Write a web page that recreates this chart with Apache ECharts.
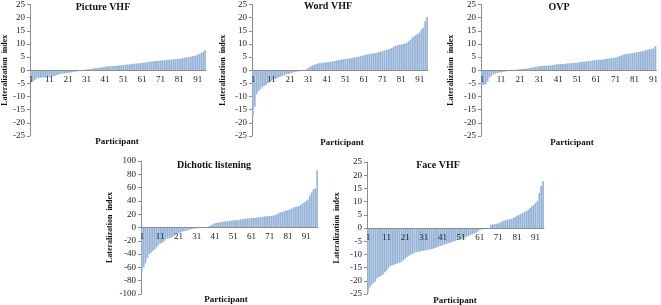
<!DOCTYPE html>
<html>
<head>
<meta charset="utf-8">
<script src="https://cdn.jsdelivr.net/npm/echarts@6/dist/echarts.min.js"></script>
<style>
  html, body { margin: 0; background: #fff; }
  #chart { width: 661px; height: 305px; }
</style>
</head>
<body>
<div id="chart"></div>
<script>
// lateralization index per participant, sorted ascending
const pictureVhf = [
  -4.6, -4.2, -3.8, -3.2, -3.0, -2.9, -2.8, -2.8, -2.7, -2.6,
  -2.5, -2.4, -2.3, -2.1, -1.8, -1.6, -1.4, -1.3, -1.2, -1.1,
  -1.0, -0.9, -0.8, -0.7, -0.6, -0.4, -0.3, -0.2, -0.1, 0.0,
  0.3, 0.4, 0.5, 0.6, 0.7, 0.8, 0.9, 1.0, 1.1, 1.2,
  1.3, 1.4, 1.5, 1.5, 1.6, 1.7, 1.7, 1.8, 1.9, 1.9,
  2.0, 2.1, 2.2, 2.2, 2.3, 2.4, 2.5, 2.6, 2.6, 2.7,
  2.8, 2.9, 3.0, 3.1, 3.2, 3.3, 3.4, 3.5, 3.5, 3.6,
  3.7, 3.8, 3.8, 3.9, 4.0, 4.0, 4.1, 4.2, 4.2, 4.3,
  4.4, 4.5, 4.6, 4.8, 4.9, 5.0, 5.1, 5.3, 5.4, 5.6,
  5.8, 6.2, 6.6, 7.0, 7.6
];
const wordVhf = [
  -17.3, -13.9, -9.1, -8.0, -7.2, -6.5, -6.0, -5.6, -5.0, -4.4,
  -4.0, -3.6, -3.3, -3.0, -2.7, -2.4, -2.1, -1.9, -1.6, -1.4,
  -1.2, -1.0, -0.8, -0.6, -0.5, -0.4, -0.3, -0.2, -0.1, 0.4,
  1.0, 1.4, 1.8, 2.1, 2.3, 2.5, 2.7, 2.8, 2.9, 3.0,
  3.0, 3.1, 3.2, 3.4, 3.5, 3.7, 3.8, 3.9, 4.1, 4.2,
  4.3, 4.4, 4.5, 4.6, 4.8, 4.9, 5.0, 5.1, 5.3, 5.5,
  5.7, 5.9, 6.1, 6.2, 6.3, 6.4, 6.5, 6.7, 6.9, 7.1,
  7.3, 7.5, 7.7, 7.9, 8.2, 8.5, 8.9, 9.3, 9.5, 9.7,
  9.8, 10.0, 10.2, 10.5, 11.0, 11.6, 12.4, 12.9, 13.4, 13.8,
  14.4, 15.5, 16.2, 18.8, 20.2
];
const ovp = [
  -5.6, -5.6, -5.3, -4.3, -2.8, -2.1, -1.6, -1.3, -1.1, -0.9,
  -0.8, -0.6, -0.5, -0.4, -0.3, -0.2, -0.1, 0.1, 0.2, 0.3,
  0.4, 0.5, 0.5, 0.6, 0.7, 0.9, 1.0, 1.1, 1.3, 1.4,
  1.5, 1.6, 1.7, 1.7, 1.8, 1.8, 1.9, 2.0, 2.1, 2.2,
  2.3, 2.3, 2.4, 2.4, 2.5, 2.6, 2.6, 2.7, 2.8, 2.8,
  2.9, 3.0, 3.1, 3.2, 3.3, 3.4, 3.5, 3.6, 3.7, 3.8,
  3.9, 4.0, 4.0, 4.1, 4.2, 4.3, 4.4, 4.5, 4.6, 4.7,
  4.8, 5.0, 5.3, 5.6, 5.9, 6.1, 6.2, 6.3, 6.4, 6.5,
  6.7, 6.8, 6.9, 7.0, 7.2, 7.4, 7.6, 7.8, 8.0, 8.1,
  8.3, 9.2
];
const dichotic = [
  -66, -60, -54, -46, -40, -38, -35, -33, -30, -27,
  -24, -23, -21, -18, -16.5, -16, -15.5, -14, -12, -10,
  -8.5, -7.5, -6.5, -5.5, -5, -4.2, -3.5, -2.5, -1.8, -1.5,
  -1.2, -0.8, -0.5, -0.3, 0.3, 0.6, 1.2, 2, 3.5, 5,
  6.5, 7, 7.5, 8, 8.5, 9, 9.3, 9.6, 10, 10.5,
  11, 11, 11, 11.2, 12, 12.5, 13, 13.3, 13.6, 14,
  14.2, 14.5, 14.8, 15, 15.2, 15.6, 16, 16.5, 16.8, 17,
  17.2, 17.6, 18, 18.5, 20, 21.5, 23, 23.5, 24.5, 25.5,
  26, 27, 28.5, 30, 31, 31.5, 32, 34, 36, 37.5,
  40, 42, 48, 53, 57.5, 59, 86
];
const faceVhf = [
  -24.5, -22.5, -21.5, -20.8, -20.3, -19.0, -18.6, -18.2, -17.6, -16.8,
  -16.2, -15.2, -14.4, -14.1, -13.9, -13.6, -13.4, -13.1, -12.8, -12.2,
  -11.6, -11.0, -10.5, -10.1, -9.8, -9.4, -9.2, -9.0, -8.9, -8.7,
  -8.6, -8.5, -8.3, -8.2, -8.0, -7.9, -7.6, -7.3, -7.0, -6.8,
  -6.6, -6.3, -6.1, -5.8, -5.6, -5.4, -5.1, -4.9, -4.6, -4.4,
  -4.2, -3.9, -3.7, -3.3, -3.0, -2.7, -2.4, -2.1, -1.8, -1.3,
  -0.8, -0.6, -0.5, -0.4, -0.2, 0.0, 1.2, 1.4, 1.5, 1.6,
  1.8, 2.1, 2.5, 2.8, 3.0, 3.2, 3.3, 3.4, 3.7, 4.2,
  4.6, 5.0, 5.3, 5.7, 6.0, 6.4, 6.9, 7.6, 8.2, 8.8,
  9.5, 10.3, 13.3, 16.0, 17.7
];

const panelTitles = ['Picture VHF', 'Word VHF', 'OVP', 'Dichotic listening', 'Face VHF'];
const panelData = [pictureVhf, wordVhf, ovp, dichotic, faceVhf];
const yRanges = [[-25, 25, 5], [-25, 25, 5], [-25, 25, 5], [-100, 100, 20], [-25, 25, 5]];

// layout (px)
const layout = [
  { grid: { left: 26, top: 4, width: 180, height: 132 }, tx: 103, ty: 7, px: 117, py: 142, gap: 21 },
  { grid: { left: 252, top: 4, width: 176, height: 132 }, tx: 328, ty: 6, px: 342, py: 143, gap: 25 },
  { grid: { left: 481, top: 4, width: 178, height: 132 }, tx: 559, ty: 7, px: 572, py: 143, gap: 26 },
  { grid: { left: 141, top: 161, width: 177, height: 133 }, tx: 214, ty: 165, px: 226, py: 300, gap: 27 },
  { grid: { left: 367, top: 162, width: 177, height: 132 }, tx: 438, ty: 165, px: 455, py: 301, gap: 26 },
];

const FONT = '"Liberation Serif", "Times New Roman", serif';
const AXIS = '#8c8c8c';
const BAR = '#95b3d7';

const participants = (n) => Array.from({ length: n }, (_, i) => String(i + 1));

const chart = echarts.init(document.getElementById('chart'), null, { renderer: 'canvas' });

const graphics = [];
layout.forEach((l, i) => {
  graphics.push({
    type: 'text', x: l.tx, y: l.ty,
    style: { text: panelTitles[i], fontFamily: FONT, fontSize: 10, fontWeight: 'bold', fill: '#111', align: 'center', verticalAlign: 'middle' },
  });
  graphics.push({
    type: 'text', x: l.px, y: l.py,
    style: { text: 'Participant', fontFamily: FONT, fontSize: 9, fontWeight: 'bold', fill: '#111', align: 'center', verticalAlign: 'middle' },
  });
});

chart.setOption({
  backgroundColor: '#fff',
  animation: false,
  grid: layout.map((l) => ({ ...l.grid })),
  // category axis sits on the zero line (symmetric y ranges -> middle of grid)
  xAxis: panelData.map((d, i) => ({
    type: 'category',
    gridIndex: i,
    position: 'bottom',
    offset: -layout[i].grid.height / 2,
    z: 5,
    data: participants(d.length),
    axisLine: { onZero: false, lineStyle: { color: AXIS, width: 1 } },
    axisTick: { show: false },
    axisLabel: { interval: 9, fontFamily: FONT, fontSize: 9, color: '#222', margin: 5 },
    splitLine: { show: false },
  })),
  yAxis: yRanges.map(([min, max, step], i) => ({
    type: 'value',
    gridIndex: i,
    min, max, interval: step,
    name: 'Lateralization  index',
    nameLocation: 'middle',
    nameGap: layout[i].gap,
    nameTextStyle: { fontFamily: FONT, fontSize: 8, fontWeight: 'bold', color: '#111' },
    axisLine: { show: true, lineStyle: { color: AXIS, width: 1 } },
    axisTick: { show: true, length: 3, lineStyle: { color: AXIS } },
    axisLabel: { fontFamily: FONT, fontSize: 9, color: '#222', margin: 5 },
    splitLine: { show: false },
  })),
  series: panelData.map((d, i) => ({
    type: 'bar',
    xAxisIndex: i,
    yAxisIndex: i,
    data: d,
    barCategoryGap: '10%',
    itemStyle: { color: BAR },
    silent: true,
  })),
  graphic: graphics,
});
</script>
</body>
</html>
